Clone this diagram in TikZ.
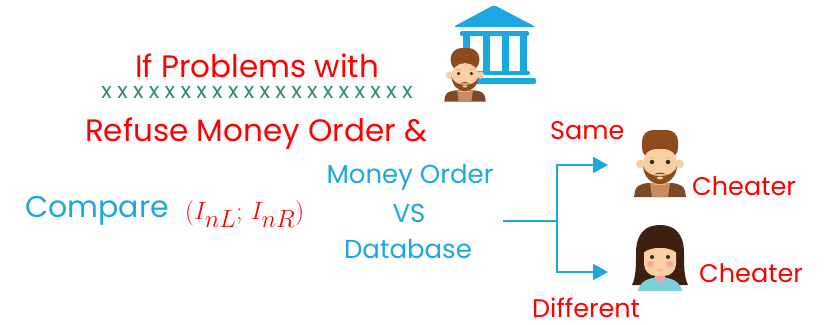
\documentclass[tikz,border=0pt]{standalone}
\usepackage{fontspec}
\usepackage{amsmath}
\setmainfont{Poppins}
\usetikzlibrary{arrows.meta}

\definecolor{skyblue}{RGB}{29,167,224}
\definecolor{xgreen}{RGB}{46,139,110}
\definecolor{hairbrown}{RGB}{140,74,30}
\definecolor{skin}{RGB}{249,207,163}
\definecolor{neck}{RGB}{237,177,127}
\definecolor{jacket}{RGB}{122,74,40}
\definecolor{shirt}{RGB}{201,139,96}
\definecolor{darkhair}{RGB}{61,31,15}
\definecolor{teal}{RGB}{124,207,218}
\definecolor{collar}{RGB}{245,158,181}
\definecolor{cheek}{RGB}{245,163,163}
\definecolor{eye}{RGB}{58,42,32}

\begin{document}
\begin{tikzpicture}[x=1pt,y=-1pt,
  txt/.style={inner sep=0pt,anchor=base},
  red30/.style={txt,text=red,font=\fontsize{31}{36}\selectfont},
  blue30/.style={txt,text=skyblue,font=\fontsize{30}{36}\selectfont},
  blue25/.style={txt,text=skyblue,font=\fontsize{26}{30}\selectfont},
  red26/.style={txt,text=red,font=\fontsize{25.5}{31}\selectfont},
  branch/.style={skyblue,line width=2pt},
  tip/.style={-{Triangle[length=15pt,width=16pt]}}]
\useasboundingbox (0,0) rectangle (826,324);

% man with beard, #1,#2 = top of hair, #3 = scale
\def\man#1#2#3{
  \begin{scope}[shift={(#1,#2)},scale=#3]
    \fill[jacket] (-26,67) -- (-25,61) .. controls (-24,56) and (-20,54) .. (-12,53)
      -- (12,53) .. controls (20,54) and (24,56) .. (25,61) -- (26,67) -- cycle;
    \fill[shirt] (-10,53) -- (10,53) -- (8,67) -- (-8,67) -- cycle;
    \fill[neck] (-6,44) rectangle (6,55);
    \fill[skin] (-19.5,34) circle (4.5) (19.5,34) circle (4.5);
    \fill[hairbrown,rounded corners=11] (-18,0) rectangle (18,29);
    \fill[skin,rounded corners=13] (-17,19) rectangle (17,51);
    \fill[hairbrown] (-17,36) .. controls (-16,48) and (-8,54) .. (0,54)
      .. controls (8,54) and (16,48) .. (17,36)
      .. controls (14,44) and (7,46) .. (0,46)
      .. controls (-7,46) and (-14,44) .. cycle;
    \fill[hairbrown] (-6,44.5) .. controls (-3,42) and (3,42) .. (6,44.5)
      .. controls (3,44) and (-3,44) .. cycle;
    \fill[skin] (0,48) ellipse (3 and 1.4);
    \fill[eye] (-8,32) circle (2.2) (8,32) circle (2.2);
    \draw[neck,line width=1pt] (-11,27) -- (-5,27) (5,27) -- (11,27);
  \end{scope}}

% girl with long hair
\def\girl#1#2{
  \begin{scope}[shift={(#1,#2)}]
    \fill[darkhair] (-28,60) .. controls (-24,52) and (-24,40) .. (-24,28)
      .. controls (-24,8) and (-14,0) .. (0,0) .. controls (14,0) and (24,8) .. (24,28)
      .. controls (24,40) and (24,52) .. (28,60) -- cycle;
    \fill[teal] (-22,66) .. controls (-20,56) and (-12,53) .. (0,52)
      .. controls (12,53) and (20,56) .. (22,66) -- cycle;
    \fill[neck] (-5,44) rectangle (5,53);
    \fill[collar] (-6,52) -- (6,52) -- (0,59) -- cycle;
    \fill[skin,rounded corners=12] (-16,16) rectangle (16,51);
    \fill[darkhair] (-17,28) .. controls (-16,10) and (-8,6) .. (0,6)
      .. controls (8,6) and (16,10) .. (17,28) .. controls (10,21) and (-10,21) .. cycle;
    \fill[cheek] (-10,39) circle (3.2) (10,39) circle (3.2);
    \fill[eye] (-8,32) circle (2) (8,32) circle (2);
    \draw[neck,line width=1pt] (-3,44) .. controls (0,46) .. (3,44);
  \end{scope}}

% bank
\begin{scope}[skyblue]
  \fill[rounded corners=3] (453,27) -- (494,5) -- (536,27) -- cycle;
  \fill[rounded corners=1.5] (460,31) rectangle (529,36);
  \foreach \cx in {466,486,505,523}
    \fill (\cx-3.5,36) rectangle (\cx+3.5,71);
  \fill[rounded corners=1.5] (460,71) rectangle (530,75);
  \fill[rounded corners=2] (455,78) rectangle (536,84);
\end{scope}
\man{465}{48}{0.8}

% texts
\node[red30] (problems) at (257,77) {If Problems with};
\node[txt,text=xgreen,font=\fontsize{22}{24}\selectfont\addfontfeature{LetterSpace=24}]
  (xrow) at (257,98) {xxxxxxxxxxxxxxxxxxxx};
\node[red30] (refuse) at (256,141) {Refuse Money Order \&};
\node[blue30,anchor=base west] (compare) at (25,217) {Compare};
\node[txt,anchor=base west,text=red,font=\fontsize{36}{42}\selectfont] (pair) at (185,219)
  {$(I_{nL};\,I_{nR})$};
\node[blue25] (order) at (410,183) {Money Order};
\node[blue25] (vs) at (409,222) {VS};
\node[blue25] (database) at (408,258) {Database};
\node[red26,anchor=base west] (same) at (550,139) {Same};
\node[red26,anchor=base west] (different) at (532,317) {Different};
\node[red26,anchor=base west] (cheat1) at (692,195) {Cheater};
\node[red26,anchor=base west] (cheat2) at (699,282) {Cheater};

% avatars
\man{660}{130}{1}
\girl{660}{225}

% branching arrows
\coordinate (start) at (503,221);
\coordinate (fork) at (557,221);
\coordinate (sameend) at (608,165);
\coordinate (diffend) at (608,272);
\draw[branch] (start) -- (fork);
\draw[branch,tip] (fork) |- (sameend);
\draw[branch,tip] (fork) |- (diffend);
\end{tikzpicture}
\end{document}
